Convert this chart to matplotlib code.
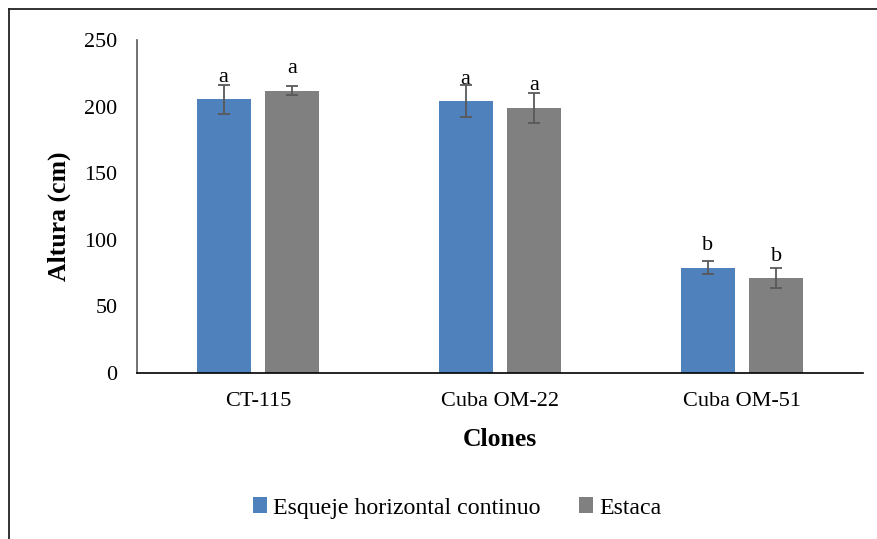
import numpy as np
import matplotlib
matplotlib.use("Agg")
import matplotlib.pyplot as plt
from matplotlib.lines import Line2D

# values
clones = ["CT-115", "Cuba OM-22", "Cuba OM-51"]
esqueje = [205.5, 204, 79]
esqueje_err = [11, 12, 5]
estaca = [212, 199, 71]
estaca_err = [3.5, 11, 7.5]
esqueje_letters = ["a", "a", "b"]
estaca_letters = ["a", "a", "b"]

plt.rcParams["font.family"] = ["Liberation Serif", "DejaVu Serif"]

blue = "#4F81BD"
gray = "#808080"
err_color = "#595959"

fig = plt.figure(figsize=(8.78, 5.39), dpi=100)
ax = fig.add_axes([137 / 878, 166 / 539, 726 / 878, 333 / 539])

x = np.arange(len(clones))
width = 0.223
off = 0.142

bars1 = ax.bar(x - off, esqueje, width, color=blue, label="Esqueje horizontal continuo")
bars2 = ax.bar(x + off, estaca, width, color=gray, label="Estaca")
ax.errorbar(x - off, esqueje, yerr=esqueje_err, fmt="none", ecolor=err_color,
            elinewidth=1.3, capsize=4.3, capthick=1.3)
ax.errorbar(x + off, estaca, yerr=estaca_err, fmt="none", ecolor=err_color,
            elinewidth=1.3, capsize=4.3, capthick=1.3)

# significance letters sit a fixed distance above each bar
for bars, letters in [(bars1, esqueje_letters), (bars2, estaca_letters)]:
    for b, letter in zip(bars, letters):
        ax.annotate(letter, (b.get_x() + b.get_width() / 2, b.get_height()),
                    xytext=(0, 9), textcoords="offset points",
                    ha="center", va="bottom", fontsize=16)

ax.set_xlim(-0.5, 2.5)
ax.set_ylim(0, 250)
ax.set_yticks([0, 50, 100, 150, 200, 250])
ax.set_xticks(x)
ax.set_xticklabels(clones)
ax.tick_params(axis="y", length=0, pad=14, labelsize=15.8)
ax.tick_params(axis="x", length=0, pad=14, labelsize=16)

for s in ["top", "right"]:
    ax.spines[s].set_visible(False)
ax.spines["left"].set_color(err_color)
ax.spines["left"].set_linewidth(1.2)
ax.spines["bottom"].set_color("black")
ax.spines["bottom"].set_linewidth(1.2)

ax.set_ylabel("Altura (cm)", fontsize=18.5, fontweight="bold")
ax.yaxis.set_label_coords(-0.091, 0.47)
ax.set_xlabel("Clones", fontsize=18.5, fontweight="bold")
ax.xaxis.set_label_coords(0.5, -0.165)

fig.legend(handles=[bars1, bars2], loc="center", bbox_to_anchor=(457 / 878, 31 / 539),
           ncol=2, frameon=False, fontsize=17.2, handlelength=0.6, handleheight=0.6,
           handletextpad=0.25, columnspacing=1.6)

# chart-area border (only top and left edges fall inside the crop)
fig.add_artist(Line2D([9 / 878, 9 / 878], [0, 1 - 9 / 539], color="#222222", lw=1.3))
fig.add_artist(Line2D([9 / 878, 1], [1 - 9 / 539, 1 - 9 / 539], color="#222222", lw=1.3))

fig.savefig("out.png", dpi=100)
